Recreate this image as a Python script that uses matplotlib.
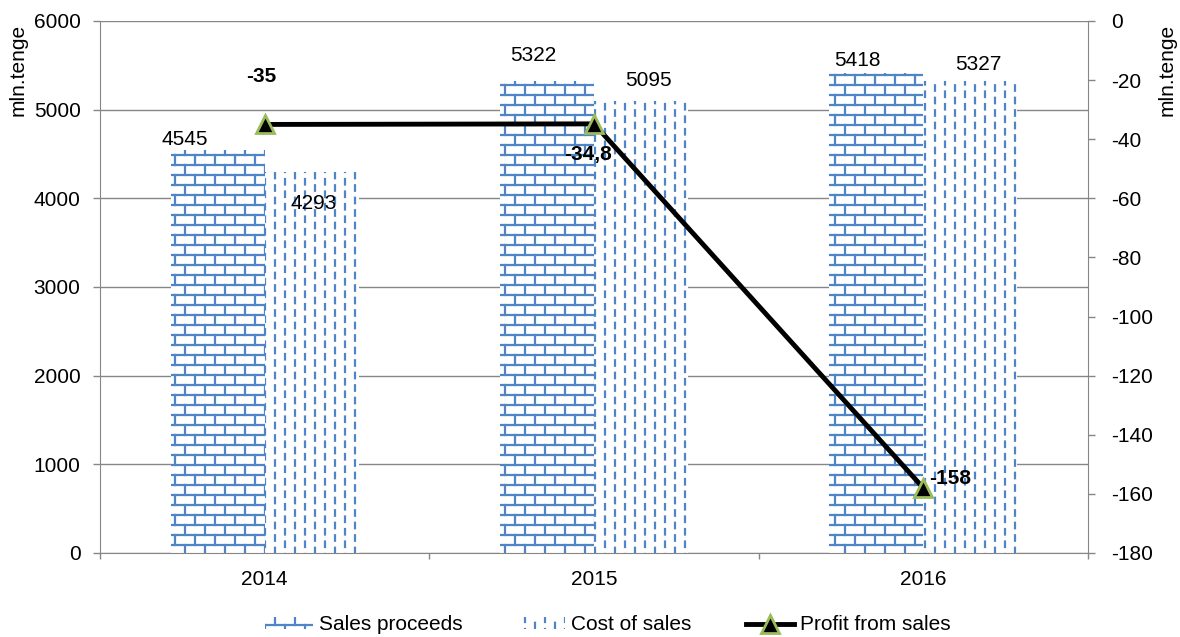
import numpy as np
import matplotlib
matplotlib.use('Agg')
import matplotlib.pyplot as plt
from matplotlib import hatch as mhatch
from matplotlib.path import Path

# data
years = ['2014', '2015', '2016']
sales = [4545, 5322, 5418]
cost = [4293, 5095, 5327]
profit = [-35, -34.8, -158]
profit_labels = ['-35', '-34,8', '-158']

# label nudges in pixels (hand placed like in the original)
sales_off = [(-33, 11), (-14, 26), (-19, 12)]
cost_off = [(2, -31), (8, 21), (8, 16)]
profit_off = [(-3, 48), (-6, -31), (27, 9)]


def vseg(x, y, length):
    y = y % 1.0
    if y + length <= 1.0:
        return [((x, y), (x, y + length))]
    return [((x, y), (x, 1.0)), ((x, 0.0), (x, y + length - 1.0))]


class TileHatch(mhatch.HatchPatternBase):
    char = None

    def __init__(self, hatch, density):
        self.segs = self.segments() if hatch and self.char in hatch else []
        self.num_vertices = 2 * len(self.segs)

    def set_vertices_and_codes(self, vertices, codes):
        vertices[:] = np.array(self.segs, dtype=float).reshape(-1, 2)
        codes[0::2] = Path.MOVETO
        codes[1::2] = Path.LINETO


class BrickHatch(TileHatch):
    char = '-'

    def segments(self):
        n, m = 10, 5
        segs = []
        for k in range(n):
            y = (k + 0.5) / n
            segs.append(((0.0, y), (1.0, y)))
            for j in range(m):
                x = (j + 0.25 + 0.5 * (k % 2)) / m
                segs += vseg(x, y, 1.0 / n)
        return segs


class DashHatch(TileHatch):
    char = '|'

    def segments(self):
        n, m = 8, 10
        segs = []
        for j in range(m):
            x = (j + 0.5) / m
            for i in range(n):
                y = (i + 0.5 * (j % 2)) / n + 0.03
                segs += vseg(x, y, 0.055)
        return segs


mhatch._hatch_types[:] = [BrickHatch, DashHatch]

plt.rcParams['font.family'] = ['Liberation Sans', 'DejaVu Sans']
plt.rcParams['axes.unicode_minus'] = False
plt.rcParams['hatch.linewidth'] = 1.6

blue = '#4f84c6'
gray = '#868686'
fs = 15

fig = plt.figure(figsize=(11.8, 6.37), dpi=100)
ax = fig.add_axes([100 / 1180, 1 - 553 / 637, 988 / 1180, 532 / 637])
ax2 = ax.twinx()

x = np.arange(len(years))
w = 0.285
b1 = ax.bar(x - w / 2, sales, w, color='white', edgecolor=blue, linewidth=0,
            hatch='-', label='Sales proceeds')
b2 = ax.bar(x + w / 2, cost, w, color='white', edgecolor=blue, linewidth=0,
            hatch='|', label='Cost of sales')

for xi, v, (dx, dy) in zip(x - w / 2, sales, sales_off):
    ax.annotate(str(v), (xi, v), xytext=(dx, dy), textcoords='offset pixels',
                ha='center', va='center', fontsize=fs)
for xi, v, (dx, dy) in zip(x + w / 2, cost, cost_off):
    ax.annotate(str(v), (xi, v), xytext=(dx, dy), textcoords='offset pixels',
                ha='center', va='center', fontsize=fs)

ax.set_xlim(-0.5, 2.5)
ax.set_ylim(0, 6000)
ax.set_yticks(np.arange(0, 6001, 1000))
ax.yaxis.grid(True, color=gray, linewidth=1)
ax.set_axisbelow(True)
ax.set_xticks(x, years)
ax.set_xticks([-0.5, 0.5, 1.5, 2.5], minor=True)
ax.tick_params(axis='x', which='major', length=0, pad=12, labelsize=fs)
ax.tick_params(axis='x', which='minor', length=4, color=gray, width=1)
ax.tick_params(axis='y', length=5, color=gray, width=1, pad=9, labelsize=fs)
for s in ['top', 'right']:
    ax.spines[s].set_visible(False)
for s in ['left', 'bottom']:
    ax.spines[s].set_color(gray)

line, = ax2.plot(x, profit, color='black', linewidth=3.5, marker='^',
                 markersize=13, markerfacecolor='black',
                 markeredgecolor='#9bbb59', markeredgewidth=2,
                 label='Profit from sales')
for xi, v, t, (dx, dy) in zip(x, profit, profit_labels, profit_off):
    ax2.annotate(t, (xi, v), xytext=(dx, dy), textcoords='offset pixels',
                 ha='center', va='center', fontsize=fs, fontweight='bold')
ax2.set_ylim(-180, 0)
ax2.set_yticks(np.arange(-180, 1, 20))
ax2.tick_params(axis='y', length=5, color=gray, width=1, pad=12, labelsize=fs)
for s in ['top', 'left', 'bottom']:
    ax2.spines[s].set_visible(False)
ax2.spines['right'].set_color(gray)

fig.text(18 / 1180, 1 - 24 / 637, 'mln.tenge', rotation=90, ha='center',
         va='top', fontsize=fs)
fig.text(1167 / 1180, 1 - 24 / 637, 'mln.tenge', rotation=90, ha='center',
         va='top', fontsize=fs)

fig.legend(handles=[b1, b2, line], loc='center', bbox_to_anchor=(0.515, 0.019),
           ncol=3, frameon=False, fontsize=fs, handlelength=2.3,
           handleheight=0.5, handletextpad=0.3, columnspacing=2.6)

fig.savefig('out.png', dpi=100)
